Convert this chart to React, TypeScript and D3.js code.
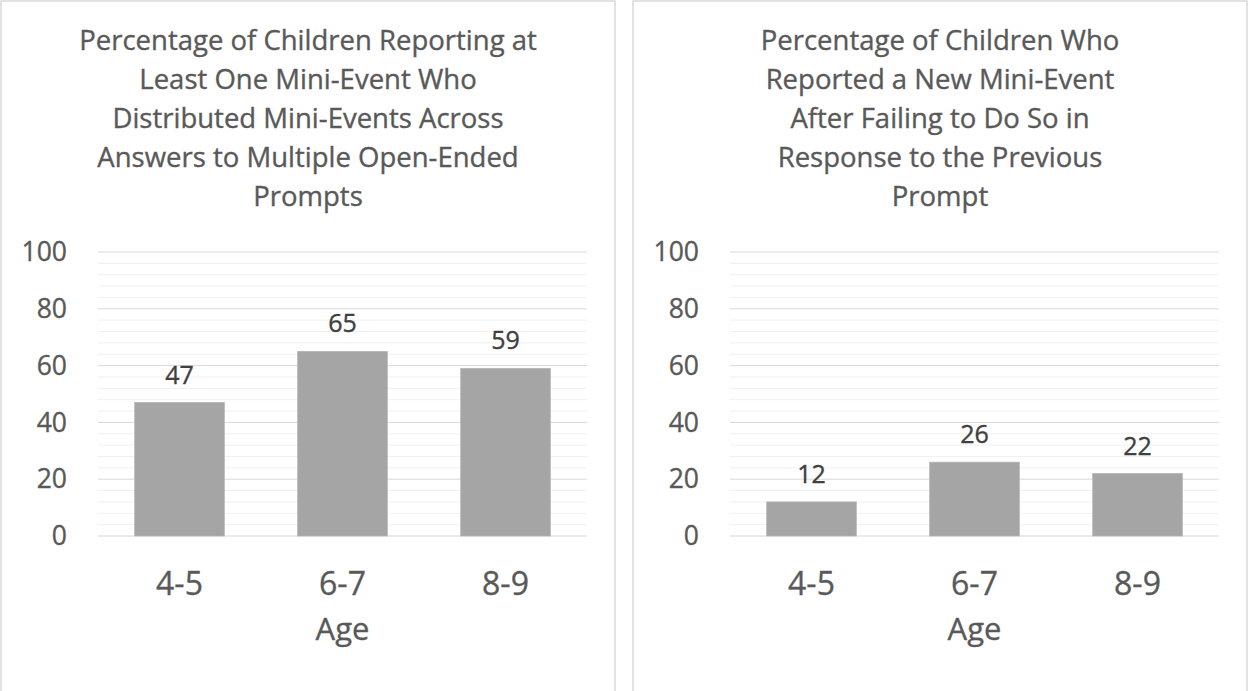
import React from 'react';
import * as d3 from 'd3';

const ages = ['4-5', '6-7', '8-9'];
const distributedValues = [47, 65, 59];
const newEventValues = [12, 26, 22];
const yTicks = [0, 20, 40, 60, 80, 100];
const minorTicks = d3.range(0, 101, 4);

const distributedTitle = [
  'Percentage of Children Reporting at',
  'Least One Mini-Event Who',
  'Distributed Mini-Events Across',
  'Answers to Multiple Open-Ended',
  'Prompts',
];
const newEventTitle = [
  'Percentage of Children Who',
  'Reported a New Mini-Event',
  'After Failing to Do So in',
  'Response to the Previous',
  'Prompt',
];

const W = 1248;
const H = 691;
const font = '"Open Sans", "Noto Sans", sans-serif';
// thin outline thickens the glyphs a little, the original text is heavier
const textStyle = { strokeWidth: 0.35, paintOrder: 'stroke' } as React.CSSProperties;

interface PanelProps {
  x0: number;
  title: string[];
  values: number[];
}

const Panel: React.FC<PanelProps> = ({ x0, title, values }: PanelProps) => {
  const panelW = 614;
  const margin = { left: 97, right: 28 };
  const top = 252;
  const bottom = 536;

  const x = d3
    .scaleBand()
    .domain(ages)
    .range([x0 + margin.left, x0 + panelW - margin.right])
    .paddingInner(0.45)
    .paddingOuter(0.225);
  const y = d3.scaleLinear().domain([0, 100]).range([bottom, top]);
  const [plotL, plotR] = [x0 + margin.left, x0 + panelW - margin.right];
  const cx = x0 + panelW / 2;

  return (
    <g>
      <rect x={x0} y={1} width={panelW} height={H + 20} fill="#fff" stroke="#d9d9d9" strokeWidth={1.5} />
      {title.map((line, i) => (
        <text key={i} x={cx} y={50 + i * 39} textAnchor="middle" fontSize={27.5} fill="#595959" stroke="#595959" style={textStyle} fontFamily={font}>
          {line}
        </text>
      ))}
      {minorTicks.filter((t) => t % 20 !== 0).map((t) => (
        <line key={'m' + t} x1={plotL} x2={plotR} y1={y(t)} y2={y(t)} stroke="#f0f0f0" strokeWidth={1} />
      ))}
      {yTicks.map((t) => (
        <g key={t}>
          <line x1={plotL} x2={plotR} y1={y(t)} y2={y(t)} stroke="#d9d9d9" strokeWidth={1} />
          <text x={plotL - 31} y={y(t)} dy="0.35em" textAnchor="end" fontSize={26.5} fill="#595959" stroke="#595959" style={textStyle} fontFamily={font}>
            {t}
          </text>
        </g>
      ))}
      {ages.map((a, i) => (
        <g key={a}>
          <rect
            x={x(a)}
            y={y(values[i])}
            width={x.bandwidth()}
            height={y(0) - y(values[i])}
            fill="#a5a5a5"
            stroke="#b4b4b4"
            strokeWidth={0.75}
          />
          <text
            x={(x(a) || 0) + x.bandwidth() / 2}
            y={y(values[i]) - 19}
            textAnchor="middle"
            fontSize={25}
            fill="#404040"
            stroke="#404040"
            style={textStyle}
            fontFamily={font}
          >
            {values[i]}
          </text>
          <text
            x={(x(a) || 0) + x.bandwidth() / 2}
            y={595}
            textAnchor="middle"
            fontSize={32}
            fill="#595959"
            stroke="#595959"
            style={textStyle}
            fontFamily={font}
          >
            {a}
          </text>
        </g>
      ))}
      <text x={(plotL + plotR) / 2} y={640} textAnchor="middle" fontSize={31} fill="#595959" stroke="#595959" style={textStyle} fontFamily={font}>
        Age
      </text>
    </g>
  );
};

export default function App() {
  return (
    <svg width={W} height={H} style={{ position: 'absolute', left: 0, top: 0, background: '#fff' }}>
      <rect width={W} height={H} fill="#fff" />
      <Panel x0={1} title={distributedTitle} values={distributedValues} />
      <Panel x0={633} title={newEventTitle} values={newEventValues} />
    </svg>
  );
}
